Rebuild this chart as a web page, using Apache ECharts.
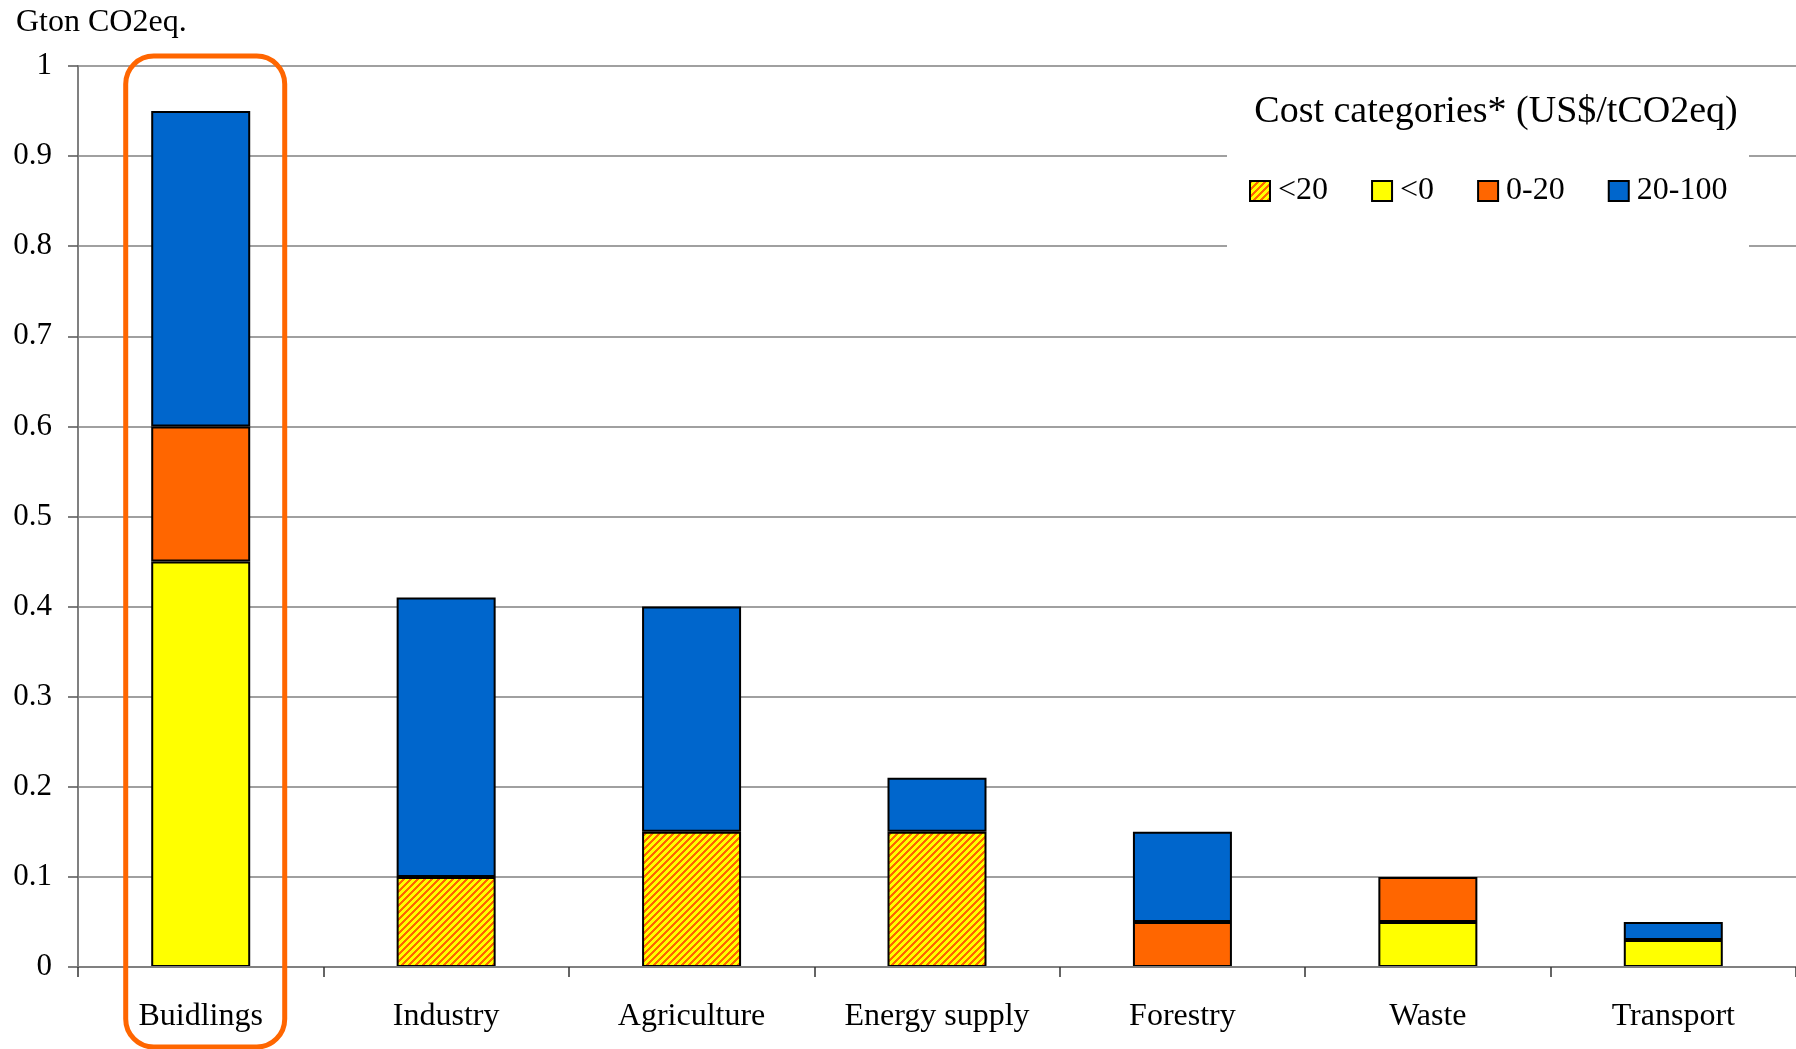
<!DOCTYPE html>
<html>
<head>
<meta charset="utf-8">
<script src="https://cdn.jsdelivr.net/npm/echarts@6/dist/echarts.min.js"></script>
<style>
  html, body { margin: 0; padding: 0; background: #fff; }
  #chart { width: 1796px; height: 1049px; }
</style>
</head>
<body>
<div id="chart"></div>
<script>
const categories = ['Buidlings', 'Industry', 'Agriculture', 'Energy supply', 'Forestry', 'Waste', 'Transport'];
const seriesNames = ['<20', '<0', '0-20', '20-100'];

// values per cost category, null = not present
const below20 = [null, 0.10, 0.15, 0.15, null, null, null];
const negative = [0.45, null, null, null, null, 0.05, 0.03];
const zeroTo20 = [0.15, null, null, null, 0.05, 0.05, null];
const twentyTo100 = [0.35, 0.31, 0.25, 0.06, 0.10, null, 0.02];

const yTicks = [0, 0.1, 0.2, 0.3, 0.4, 0.5, 0.6, 0.7, 0.8, 0.9, 1];

const FONT = "'Liberation Serif', 'Times New Roman', serif";
const YELLOW = '#FFFF00';
const ORANGE = '#FF6600';
const BLUE = '#0066CC';

// yellow / orange diagonal hatch
function makeHatch() {
    const size = 7;
    const cv = document.createElement('canvas');
    cv.width = size;
    cv.height = size;
    const ctx = cv.getContext('2d');
    for (let x = 0; x < size; x++) {
        for (let y = 0; y < size; y++) {
            ctx.fillStyle = ((x + y) % size) < 3 ? ORANGE : YELLOW;
            ctx.fillRect(x, y, 1, 1);
        }
    }
    return { image: cv, repeat: 'repeat' };
}

function barSeries(name, data, color) {
    return {
        name,
        type: 'bar',
        stack: 'total',
        barWidth: 99,
        data,
        itemStyle: {
            color,
            borderColor: '#000',
            borderWidth: 2
        },
        emphasis: { disabled: true }
    };
}

const chart = echarts.init(document.getElementById('chart'));

chart.setOption({
    animation: false,
    backgroundColor: '#fff',
    title: {
        text: 'Gton CO2eq.',
        left: 11,
        top: 2,
        textStyle: { fontFamily: FONT, fontSize: 32, fontWeight: 'normal', color: '#000' }
    },
    grid: { left: 78, right: 0, top: 66, bottom: 82 },
    legend: {
        data: seriesNames,
        left: 1249,
        top: 175,
        padding: 0,
        itemWidth: 20,
        itemHeight: 20,
        itemGap: 43,
        icon: 'rect',
        itemStyle: { borderColor: '#000', borderWidth: 2 },
        textStyle: { fontFamily: FONT, fontSize: 32, color: '#000', padding: [0, 0, 0, 3] },
        z: 20
    },
    xAxis: {
        type: 'category',
        data: categories,
        boundaryGap: true,
        axisLine: { lineStyle: { color: '#808080', width: 2 } },
        axisTick: { show: true, length: 10, inside: false, lineStyle: { color: '#333', width: 1.5 } },
        axisLabel: { fontFamily: FONT, fontSize: 32, color: '#000', margin: 34, interval: 0 },
        z: 3
    },
    yAxis: {
        type: 'value',
        min: 0,
        max: 1,
        interval: 0.1,
        axisLine: { show: true, lineStyle: { color: '#808080', width: 2 } },
        axisTick: { show: true, length: 10, lineStyle: { color: '#555', width: 1.5 } },
        axisLabel: {
            fontFamily: FONT,
            fontSize: 31,
            color: '#000',
            margin: 26,
            formatter: v => {
                const t = yTicks.find(k => Math.abs(k - v) < 1e-6);
                return t === undefined ? '' : String(t);
            }
        },
        splitLine: { show: true, lineStyle: { color: '#808080', width: 1.5 } }
    },
    series: [
        barSeries(seriesNames[0], below20, makeHatch()),
        barSeries(seriesNames[1], negative, YELLOW),
        barSeries(seriesNames[2], zeroTo20, ORANGE),
        barSeries(seriesNames[3], twentyTo100, BLUE)
    ]
});

// legend box, legend title and the highlight frame round the first category
function addGraphics() {
    const cx = chart.convertToPixel({ xAxisIndex: 0 }, categories[0]);
    const yTop = chart.convertToPixel({ yAxisIndex: 0 }, 1);
    chart.setOption({
        graphic: [
            {
                type: 'rect',
                shape: { x: 1227, y: 74, width: 522, height: 184 },
                style: { fill: '#fff' },
                z: 10
            },
            {
                type: 'text',
                x: 1496,
                y: 112,
                style: {
                    text: 'Cost categories* (US$/tCO2eq)',
                    fontFamily: FONT,
                    fontSize: 38,
                    fill: '#000',
                    align: 'center',
                    verticalAlign: 'middle'
                },
                z: 11
            },
            {
                type: 'rect',
                shape: { x: cx - 75, y: yTop - 10, width: 159, height: 1047 - (yTop - 10), r: 28 },
                style: { fill: null, stroke: ORANGE, lineWidth: 5 },
                z: 12
            }
        ]
    });
}

addGraphics();
</script>
</body>
</html>
